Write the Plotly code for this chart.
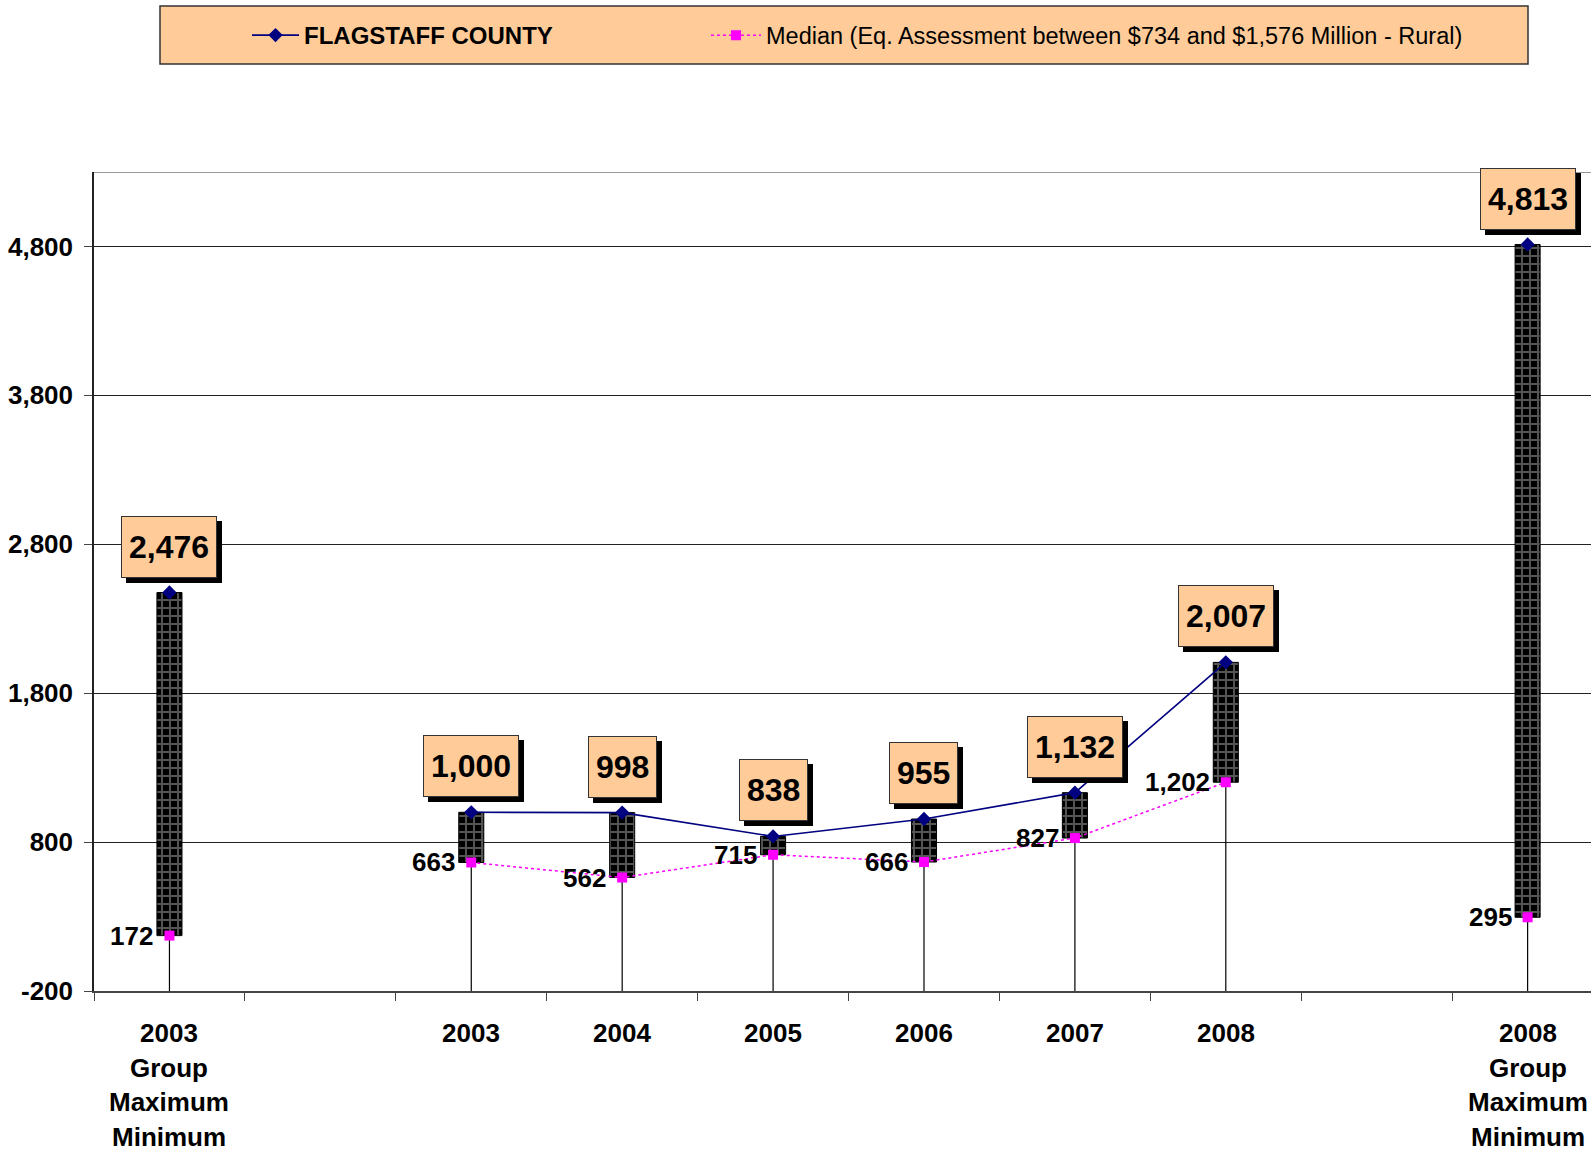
import plotly.graph_objects as go

# ---- data ----
slots = list(range(10))
cat_labels = [
    ["2003", "Group", "Maximum", "Minimum"],
    [],
    ["2003"], ["2004"], ["2005"], ["2006"], ["2007"], ["2008"],
    [],
    ["2008", "Group", "Maximum", "Minimum"],
]
county = [2476, None, 1000, 998, 838, 955, 1132, 2007, None, 4813]
median = [172, None, 663, 562, 715, 666, 827, 1202, None, 295]
county_name = "FLAGSTAFF COUNTY"
median_name = "Median (Eq. Assessment between $734 and $1,576 Million - Rural)"
y_min, y_max = -200, 5300
y_ticks = [-200, 800, 1800, 2800, 3800, 4800]

FONT = "Liberation Sans, Arial, sans-serif"
PEACH = "#FFCC99"

fig = go.Figure()

# floating bars between median and county values
bx, bbase, bh = [], [], []
for i in slots:
    if county[i] is not None and median[i] is not None:
        lo, hi = min(county[i], median[i]), max(county[i], median[i])
        bx.append(i); bbase.append(lo); bh.append(hi - lo)
fig.add_trace(go.Bar(
    x=bx, y=bh, base=bbase, width=0.166, showlegend=False, hoverinfo="skip",
    marker=dict(color="black", line=dict(color="black", width=1),
                pattern=dict(shape="+", fgcolor="#aaaaaa", bgcolor="black",
                             size=8, solidity=0.42, fillmode="overlay")),
))

# drop lines from the lower value to the axis
dx, dy = [], []
for i in slots:
    if median[i] is not None:
        dx += [i, i, None]
        dy += [y_min, median[i], None]
fig.add_trace(go.Scatter(x=dx, y=dy, mode="lines", showlegend=False,
                         hoverinfo="skip", line=dict(color="black", width=1.2)))

fig.add_trace(go.Scatter(
    x=slots, y=county, mode="lines+markers", name="<b>" + county_name + "</b>",
    line=dict(color="#000080", width=1.6),
    marker=dict(symbol="diamond", size=11, color="#000080"),
    connectgaps=False, legend="legend",
))
fig.add_trace(go.Scatter(
    x=slots, y=median, mode="lines+markers", name=median_name,
    line=dict(color="#FF00FF", width=1.5, dash="dot"),
    marker=dict(symbol="square", size=10, color="#FF00FF"),
    connectgaps=False, legend="legend2",
))

annotations = []
# top value labels (shadow first)
for i in slots:
    if county[i] is None:
        continue
    txt = f"{county[i]:,}"
    for shadow in (True, False):
        annotations.append(dict(
            x=i, y=county[i], xref="x", yref="y", text=txt, showarrow=False,
            xanchor="center", yanchor="bottom",
            xshift=(5 if shadow else 0), yshift=(15 - 5 if shadow else 15),
            font=dict(family=FONT, size=32, color="black", weight="bold"),
            bgcolor=("black" if shadow else PEACH),
            bordercolor=("black" if shadow else "#333"), borderwidth=1,
            borderpad=7, height=46,
        ))
# bottom value labels
for i in slots:
    if median[i] is None:
        continue
    annotations.append(dict(
        x=i, y=median[i], xref="x", yref="y", text=f"{median[i]:,}",
        showarrow=False, xanchor="right", yanchor="middle", xshift=-14,
        font=dict(family=FONT, size=26, color="black", weight="bold"),
    ))
# category labels
for i in slots:
    for k, line in enumerate(cat_labels[i]):
        annotations.append(dict(
            x=i, y=0, xref="x", yref="paper", text=line, showarrow=False,
            xanchor="center", yanchor="middle", yshift=-(42 + k * 34.5),
            font=dict(family=FONT, size=26, color="black", weight="bold"),
        ))

plot_l, plot_t, plot_b, W, H = 94, 172, 161, 1591, 1152
ph = H - plot_t - plot_b
pw = W - plot_l


def px_x(x):
    return (x - plot_l) / pw


def px_y(y):
    return (H - plot_b - y) / ph


shapes = [
    # legend box
    dict(type="rect", xref="paper", yref="paper",
         x0=px_x(160), x1=px_x(1528), y0=px_y(64), y1=px_y(6),
         fillcolor=PEACH, line=dict(color="#333", width=1.5), layer="below"),
    # top border of plot area
    dict(type="line", xref="paper", yref="y", x0=0, x1=1, y0=y_max, y1=y_max,
         line=dict(color="#999", width=2)),
]

legend_common = dict(orientation="h", xanchor="left", yanchor="middle",
                     y=px_y(35.5), bgcolor="rgba(0,0,0,0)")
fig.update_layout(
    width=W, height=H,
    margin=dict(l=plot_l, r=0, t=plot_t, b=plot_b),
    paper_bgcolor="white", plot_bgcolor="white",
    barmode="overlay",
    showlegend=True,
    legend=dict(x=px_x(247), itemwidth=47,
                font=dict(family=FONT, size=24, color="black"),
                **legend_common),
    legend2=dict(x=px_x(706), itemwidth=50,
                 font=dict(family=FONT, size=23.5, color="black"),
                 **legend_common),
    annotations=annotations,
    shapes=shapes,
    xaxis=dict(range=[-0.5, 9.42], tickvals=[s - 0.5 for s in slots] + [9.5],
               showticklabels=False, ticks="outside", ticklen=8,
               tickcolor="#444", showgrid=False, zeroline=False,
               showline=True, linecolor="#444", linewidth=2),
    yaxis=dict(range=[y_min, y_max], tickvals=y_ticks,
               ticktext=[f"{v:,}" for v in y_ticks],
               ticks="outside", ticklen=8, tickcolor="#444",
               ticklabelstandoff=6,
               tickfont=dict(family=FONT, size=26, color="black", weight="bold"),
               showgrid=True, gridcolor="#222", gridwidth=1,
               zeroline=False, showline=True, linecolor="#222", linewidth=1.5),
)

fig.write_html("out.html", config={"displayModeBar": False},
               post_script="document.body.style.margin='0';")
